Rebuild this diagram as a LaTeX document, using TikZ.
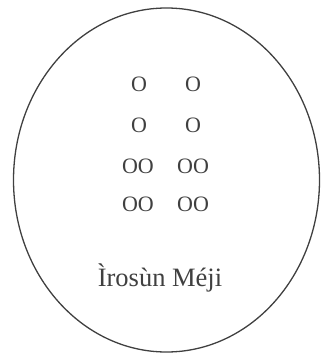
\documentclass[tikz,border=0pt]{standalone}
\usepackage{fontspec}
\setmainfont{Liberation Serif}
\usetikzlibrary{shapes.geometric}
\begin{document}
\begin{tikzpicture}[x=1pt,y=-1pt,
  odu/.style={text=black!75,font=\fontsize{22}{22}\selectfont,inner sep=0pt},
  lbl/.style={text=black!75,font=\fontsize{26.5}{28}\selectfont,inner sep=0pt}]
\useasboundingbox (0,0) rectangle (323,358);
\node[draw=black!75,line width=1.3pt,ellipse,minimum width=306,minimum height=344,inner sep=0pt] (oval) at (166.5,180) {};
\node[odu] (a1) at (139,84) {O};
\node[odu] (b1) at (193,84) {O};
\node[odu] (a2) at (139,125) {O};
\node[odu] (b2) at (193,125) {O};
\node[odu] (a3) at (138,166) {OO};
\node[odu] (b3) at (193,166) {OO};
\node[odu] (a4) at (138,204) {OO};
\node[odu] (b4) at (193,204) {OO};
\node[lbl] (name) at (160,278) {Ìrosùn Méji};
\end{tikzpicture}
\end{document}
